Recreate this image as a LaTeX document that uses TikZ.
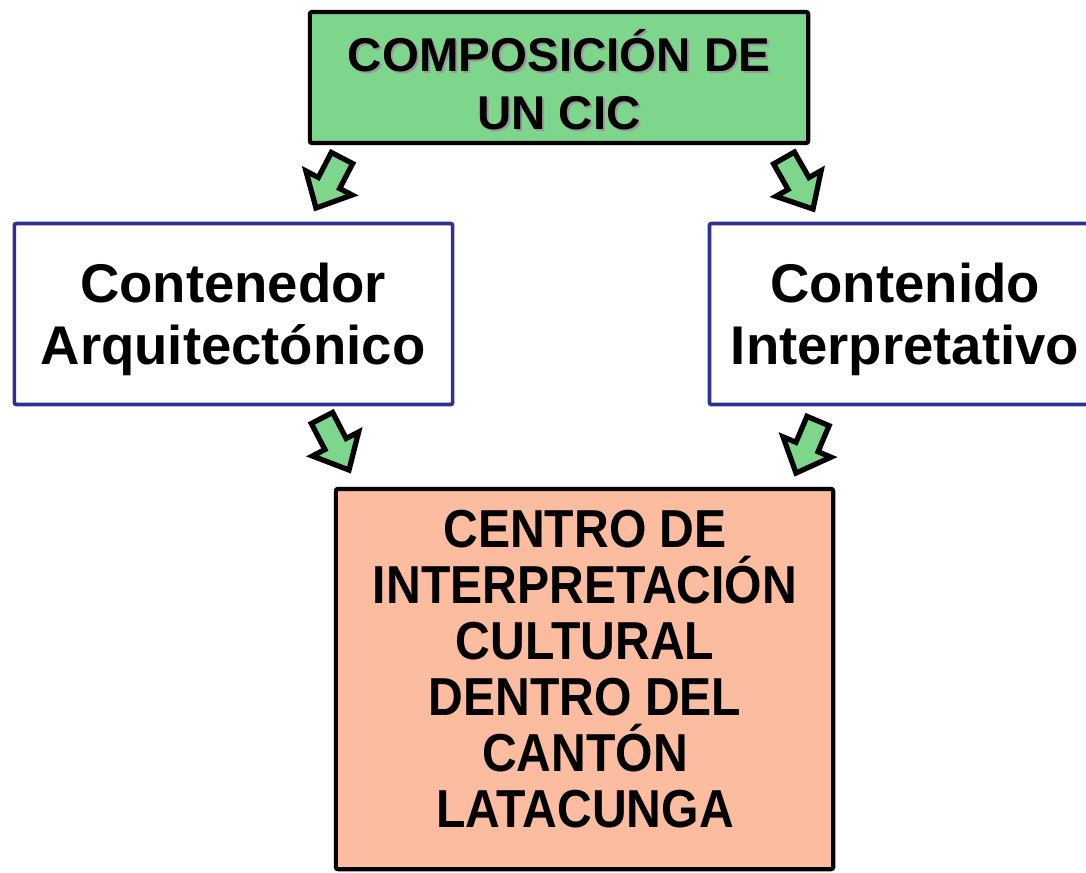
\documentclass[tikz,border=0pt]{standalone}
\usepackage{fontspec}
\setmainfont{Liberation Sans}
\newfontfamily\narrowfont{Liberation Sans}[FakeStretch=0.9]
\usetikzlibrary{calc}
\definecolor{boxgreen}{HTML}{7ED68C}
\definecolor{boxsalmon}{HTML}{FBBC9F}
\definecolor{boxblue}{HTML}{2E3192}
\tikzset{
  greenbox/.style={draw=black, line width=1.2pt, fill=boxgreen, rounded corners=0.6pt, inner sep=0pt},
  bluebox/.style={draw=boxblue, line width=1.05pt, fill=white, rounded corners=0.6pt, inner sep=0pt},
  salmonbox/.style={draw=black, line width=1.2pt, fill=boxsalmon, rounded corners=0.6pt, inner sep=0pt},
  lbl/.style={align=center, inner sep=0pt, text=black},
  blockarrow/.style={draw=black, line width=1.5pt, fill=boxgreen, line join=miter}
}
\newcommand\blkarrow[2]{%
  \coordinate (n) at ($(#1)!0.5!(#2)$);
  \draw[blockarrow] ($(#1)!0.12cm!90:(#2)$) -- ($(n)!0.12cm!-90:(#1)$) -- ($(n)!0.26cm!-90:(#1)$) -- (#2)
    -- ($(n)!0.26cm!90:(#1)$) -- ($(n)!0.12cm!90:(#1)$) -- ($(#1)!0.12cm!-90:(#2)$) -- cycle;
}
\begin{document}
\begin{tikzpicture}[x=0.01cm, y=-0.01cm]
\useasboundingbox (0,0) rectangle (1086,872);
\clip (0,0) rectangle (1086,872);
% boxes
\node[greenbox, minimum width=4.98cm, minimum height=1.31cm] (top) at (559,77.5) {};
\node[bluebox, minimum width=4.38cm, minimum height=1.81cm] (left) at (233.5,314) {};
\node[bluebox, minimum width=3.91cm, minimum height=1.81cm] (right) at (905,314) {};
\node[salmonbox, minimum width=4.97cm, minimum height=3.80cm] (bottom) at (584.5,679) {};
% texts
\node[lbl, text=black!40, font=\bfseries\fontsize{13.5pt}{16.5pt}\selectfont] (topshadow) at (561,82) {COMPOSICIÓN DE\\UN CIC};
\node[lbl, font=\bfseries\fontsize{13.5pt}{16.5pt}\selectfont] (toptext) at (559,80) {COMPOSICIÓN DE\\UN CIC};
\node[lbl, font=\bfseries\fontsize{15.5pt}{17.6pt}\selectfont] (lefttext) at (233,319) {Contenedor\\Arquitectónico};
\node[lbl, font=\bfseries\fontsize{15.5pt}{17.6pt}\selectfont] (righttext) at (905,319) {Contenido\\Interpretativo};
\node[lbl, font=\narrowfont\bfseries\fontsize{15.2pt}{15.9pt}\selectfont] (bottomtext) at (585,669) {CENTRO DE\\INTERPRETACIÓN\\CULTURAL\\DENTRO DEL\\CANTÓN\\LATACUNGA};
% arrows
\coordinate (a1t) at (342,158); \coordinate (a1h) at (316,208);
\coordinate (a2t) at (784,158); \coordinate (a2h) at (813,209);
\coordinate (a3t) at (322,418); \coordinate (a3h) at (349,470);
\coordinate (a4t) at (818,421); \coordinate (a4h) at (796,473);
\blkarrow{a1t}{a1h}
\blkarrow{a2t}{a2h}
\blkarrow{a3t}{a3h}
\blkarrow{a4t}{a4h}
\end{tikzpicture}
\end{document}
